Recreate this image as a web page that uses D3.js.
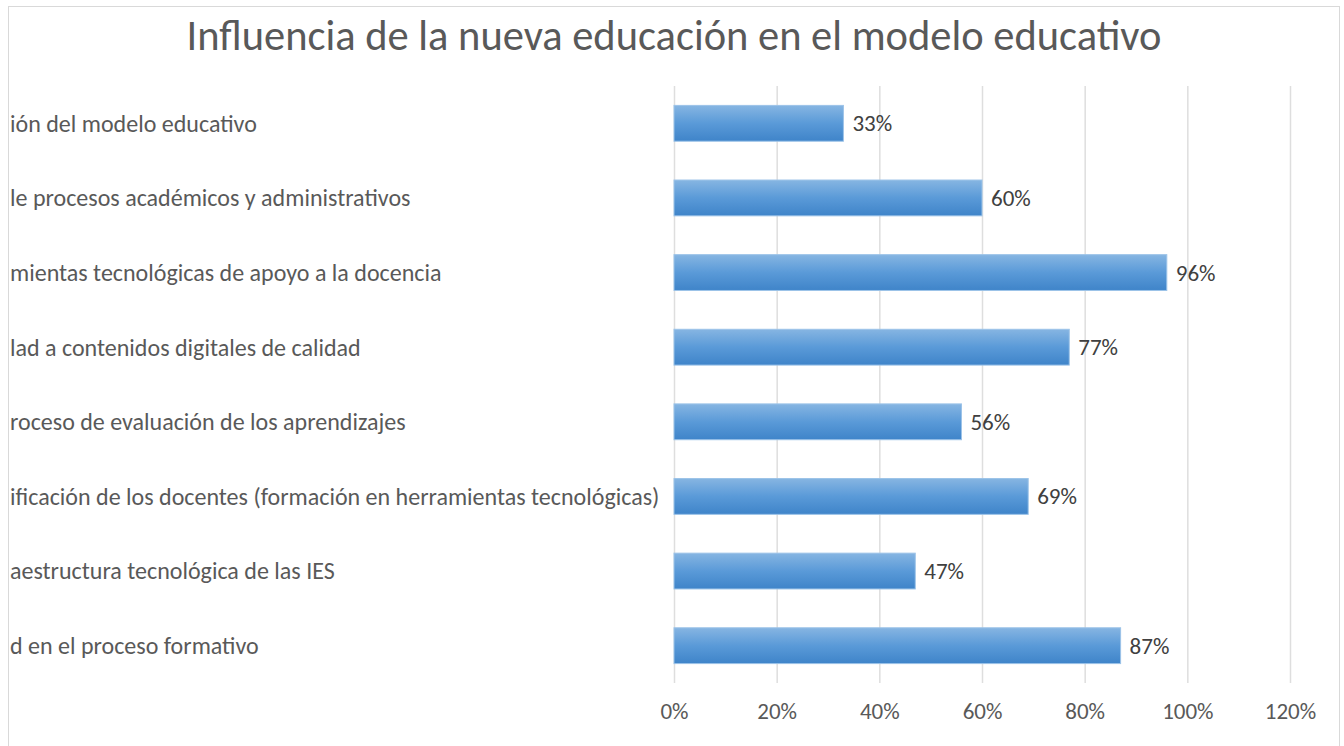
<!DOCTYPE html>
<html>
<head>
<meta charset="utf-8">
<script src="https://cdn.jsdelivr.net/npm/d3@7"></script>
<style>
  html, body { margin: 0; padding: 0; background: #fff; }
  svg { display: block; }
</style>
</head>
<body>
<svg id="chart"></svg>
<script>
const width = 1344;
const height = 746;

// category labels as they are visible in the (cropped) chart
const categories = [
  'ión del modelo educativo',
  'le procesos académicos y administrativos',
  'mientas tecnológicas de apoyo a la docencia',
  'lad a contenidos digitales de calidad',
  'roceso de evaluación de los aprendizajes',
  'ificación de los docentes (formación en herramientas tecnológicas)',
  'aestructura tecnológica de las IES',
  'd en el proceso formativo'
];
const values = [0.33, 0.60, 0.96, 0.77, 0.56, 0.69, 0.47, 0.87];
const ticks = [0, 0.2, 0.4, 0.6, 0.8, 1.0, 1.2];

const font = 'Carlito, Calibri, Lato, sans-serif';

const svg = d3.select('#chart')
  .attr('width', width)
  .attr('height', height);

// chart frame
svg.append('rect')
  .attr('x', 8.5).attr('y', 6.5)
  .attr('width', 1331).attr('height', 760)
  .attr('fill', '#fff')
  .attr('stroke', '#d9d9d9');

const defs = svg.append('defs');
const grad = defs.append('linearGradient')
  .attr('id', 'barGrad')
  .attr('x1', 0).attr('y1', 0).attr('x2', 0).attr('y2', 1);
grad.append('stop').attr('offset', '0%').attr('stop-color', '#86b5e2');
grad.append('stop').attr('offset', '50%').attr('stop-color', '#5a9ad8');
grad.append('stop').attr('offset', '100%').attr('stop-color', '#3f84c9');

const x = d3.scaleLinear().domain([0, 1.2]).range([674, 1290]);
const y = d3.scaleBand().domain(categories).range([86, 683]).paddingInner(0.52).paddingOuter(0.26);

// gridlines
svg.append('g')
  .selectAll('line')
  .data(ticks)
  .join('line')
  .attr('x1', d => x(d) + 0.5).attr('x2', d => x(d) + 0.5)
  .attr('y1', 86).attr('y2', 683)
  .attr('stroke', '#dedede')
  .attr('stroke-width', 1.5);

// x axis labels
const xAxis = svg.append('g')
  .attr('transform', 'translate(0,683)')
  .call(d3.axisBottom(x).tickValues(ticks).tickFormat(d3.format('.0%')).tickSize(0).tickPadding(20));
xAxis.select('.domain').remove();
xAxis.selectAll('text')
  .attr('font-family', font)
  .attr('font-size', 23)
  .attr('fill', '#595959');

// category labels, left aligned at the frame edge
const labels = svg.append('g')
  .selectAll('text')
  .data(categories)
  .join('text')
  .attr('x', 10)
  .attr('y', d => y(d) + y.bandwidth() / 2)
  .attr('dy', '0.35em')
  .attr('font-family', font)
  .attr('font-size', 24)
  .attr('fill', '#595959')
  .text(d => d);

// fit the longest label so it ends just before the bars
const longest = d3.max(labels.nodes(), n => n.getComputedTextLength());
labels.attr('font-size', 24 * 650 / longest);

// bars
svg.append('g')
  .selectAll('rect')
  .data(values)
  .join('rect')
  .attr('x', x(0))
  .attr('y', (d, i) => y(categories[i]))
  .attr('width', d => x(d) - x(0))
  .attr('height', y.bandwidth())
  .attr('fill', 'url(#barGrad)')
  .attr('stroke', '#9cc3e8')
  .attr('stroke-width', 1);

// value labels
svg.append('g')
  .selectAll('text')
  .data(values)
  .join('text')
  .attr('x', d => x(d) + 9)
  .attr('y', (d, i) => y(categories[i]) + y.bandwidth() / 2)
  .attr('dy', '0.35em')
  .attr('font-family', font)
  .attr('font-size', 23)
  .attr('fill', '#404040')
  .text(d => d3.format('.0%')(d));

// title
svg.append('text')
  .attr('x', 674)
  .attr('y', 50)
  .attr('text-anchor', 'middle')
  .attr('font-family', font)
  .attr('font-size', 42.5)
  .attr('fill', '#595959')
  .text('Influencia de la nueva educación en el modelo educativo');
</script>
</body>
</html>
